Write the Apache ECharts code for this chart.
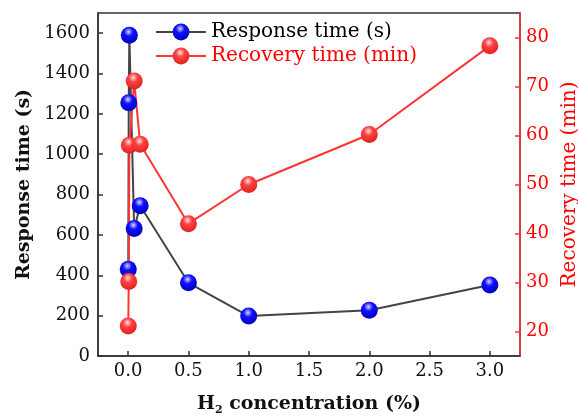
<!DOCTYPE html>
<html>
<head>
<meta charset="utf-8">
<script src="https://cdn.jsdelivr.net/npm/echarts@6/dist/echarts.min.js"></script>
<style>
  html, body { margin: 0; padding: 0; background: #fff; }
  #chart { width: 578px; height: 418px; }
</style>
</head>
<body>
<div id="chart"></div>
<script>
// H2 concentration (%)
var conc = [0.001, 0.005, 0.01, 0.05, 0.1, 0.5, 1, 2, 3];
// response time (s), left axis
var response = [430, 1255, 1590, 632, 745, 363, 198, 227, 352];
// recovery time (min), right axis
var recovery = [21.1, 30.2, 58.0, 71.1, 58.2, 42.0, 50.0, 60.2, 78.3];
// tick labels
var xTicks = [0, 0.5, 1, 1.5, 2, 2.5, 3];
var leftTicks = [0, 200, 400, 600, 800, 1000, 1200, 1400, 1600];
var rightTicks = [20, 30, 40, 50, 60, 70, 80];

var font = 'DejaVu Serif';

function ball(c1, c2, c3) {
  // shaded sphere look
  return {
    type: 'radial', x: 0.45, y: 0.3, r: 0.75,
    colorStops: [
      { offset: 0, color: c1 },
      { offset: 0.35, color: c2 },
      { offset: 1, color: c3 }
    ]
  };
}

function pairs(xs, ys) {
  var out = [];
  for (var i = 0; i < xs.length; i++) out.push([xs[i], ys[i]]);
  return out;
}

var myChart = echarts.init(document.getElementById('chart'));
var option = {
  animation: false,
  grid: {
    left: 98, right: 58, top: 13, bottom: 62,
    outerBoundsMode: 'none',
    show: true, borderColor: '#333', borderWidth: 1.5
  },
  legend: {
    orient: 'vertical',
    left: 150, top: 17,
    itemWidth: 50, itemHeight: 21, itemGap: 4,
    textStyle: { fontFamily: font, fontSize: 20 },
    data: [
      { name: 'Response time (s)', textStyle: { color: '#000' } },
      { name: 'Recovery time (min)', textStyle: { color: '#ff0000' } }
    ]
  },
  xAxis: {
    type: 'value', min: -0.25, max: 3.25,
    name: '{a|H}{s|2}{a| concentration (%)}',
    nameLocation: 'middle', nameGap: 37,
    nameTextStyle: {
      rich: {
        a: { fontFamily: font, fontSize: 19, fontWeight: 'bold', color: '#111' },
        s: { fontFamily: font, fontSize: 11, fontWeight: 'bold', color: '#111', verticalAlign: 'bottom', padding: [12, 0, 0, 0] }
      }
    },
    splitLine: { show: false },
    axisLine: { lineStyle: { color: '#333', width: 1.5 } },
    axisTick: { inside: true, length: 5, customValues: xTicks, lineStyle: { color: '#333', width: 1.5 } },
    axisLabel: {
      customValues: xTicks, margin: 6,
      fontFamily: font, fontSize: 18, color: '#111',
      formatter: function (v) { return v.toFixed(1); }
    }
  },
  yAxis: [
    {
      type: 'value', min: 0, max: 1700, position: 'left',
      name: 'Response time (s)', nameLocation: 'middle', nameRotate: 90, nameGap: 54,
      nameTextStyle: { fontFamily: font, fontSize: 19, fontWeight: 'bold', color: '#111' },
      splitLine: { show: false },
      axisLine: { show: true, onZero: false, lineStyle: { color: '#333', width: 1.5 } },
      axisTick: { show: true, inside: true, length: 5, customValues: leftTicks, lineStyle: { color: '#333', width: 1.5 } },
      axisLabel: {
        customValues: leftTicks, margin: 8, fontFamily: font, fontSize: 18, color: '#111',
        formatter: function (v) { return String(v); }
      }
    },
    {
      type: 'value', min: 15, max: 85, position: 'right',
      name: 'Recovery time (min)', nameLocation: 'middle', nameRotate: 90, nameGap: 36,
      nameTextStyle: { fontFamily: font, fontSize: 20, color: '#ff0000' },
      splitLine: { show: false },
      axisLine: { show: true, onZero: false, lineStyle: { color: '#ff3030', width: 1.5 } },
      axisTick: { show: true, inside: true, length: 5, customValues: rightTicks, lineStyle: { color: '#ff3030', width: 1.5 } },
      axisLabel: { customValues: rightTicks, margin: 6, fontFamily: font, fontSize: 18, color: '#ff0000' }
    }
  ],
  series: [
    {
      name: 'Response time (s)', type: 'line', yAxisIndex: 0,
      data: pairs(conc, response),
      symbol: 'circle', symbolSize: 17,
      lineStyle: { color: '#444', width: 2 },
      itemStyle: { color: ball('#d8d8ff', '#1010ff', '#0000b0') }
    },
    {
      name: 'Recovery time (min)', type: 'line', yAxisIndex: 1,
      data: pairs(conc, recovery),
      symbol: 'circle', symbolSize: 17,
      lineStyle: { color: '#ff3535', width: 2 },
      itemStyle: { color: ball('#ffe0e0', '#ff4040', '#d82020') }
    }
  ]
};
myChart.setOption(option);
</script>
</body>
</html>
